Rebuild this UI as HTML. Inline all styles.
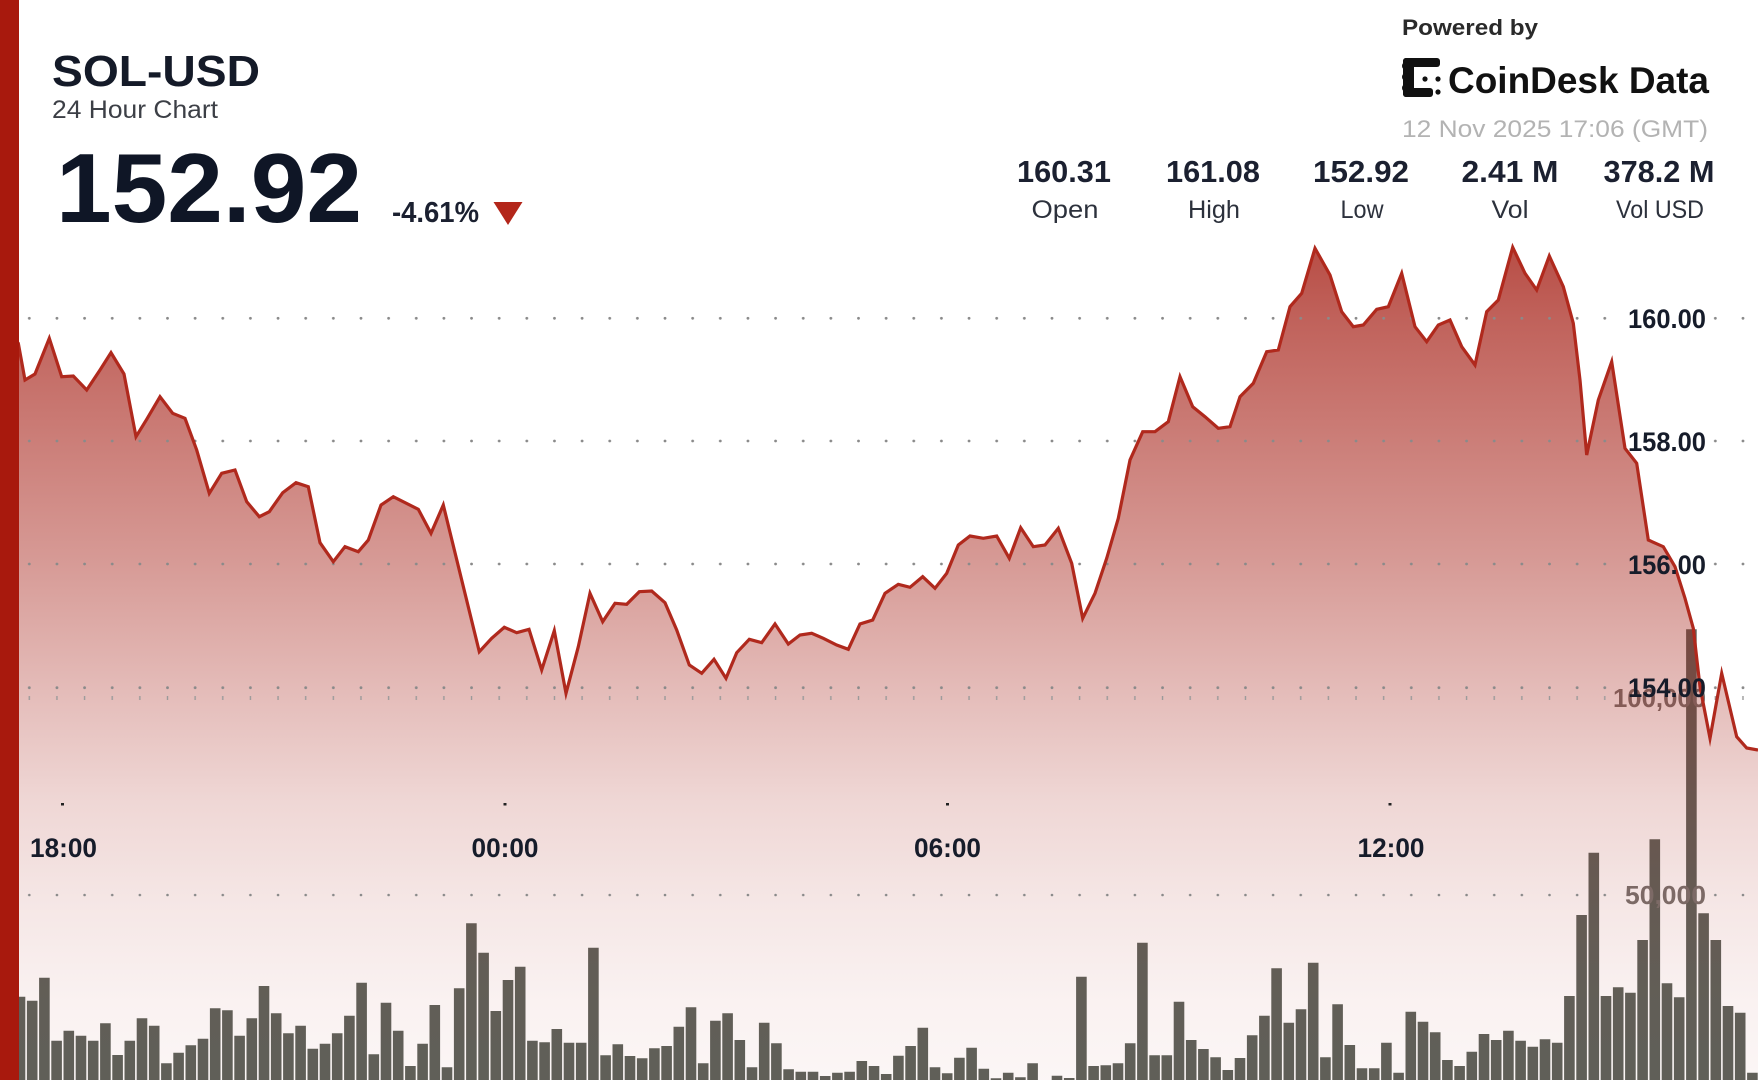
<!DOCTYPE html>
<html>
<head>
<meta charset="utf-8">
<style>
  html,body{margin:0;padding:0;background:#fff;}
  body{width:1758px;height:1080px;overflow:hidden;}
  svg{display:block;font-family:"Liberation Sans",Arial,sans-serif;}
</style>
</head>
<body>
<svg width="1758" height="1080" viewBox="0 0 1758 1080" xmlns="http://www.w3.org/2000/svg">
  <defs>
    <linearGradient id="fillg" gradientUnits="userSpaceOnUse" x1="0" y1="247" x2="0" y2="1080">
      <stop offset="0" stop-color="#a51e14" stop-opacity="0.79"/>
      <stop offset="0.085" stop-color="#a51e14" stop-opacity="0.70"/>
      <stop offset="0.376" stop-color="#a51e14" stop-opacity="0.45"/>
      <stop offset="0.532" stop-color="#a51e14" stop-opacity="0.30"/>
      <stop offset="0.664" stop-color="#a51e14" stop-opacity="0.18"/>
      <stop offset="0.784" stop-color="#a51e14" stop-opacity="0.11"/>
      <stop offset="0.904" stop-color="#a51e14" stop-opacity="0.06"/>
      <stop offset="1" stop-color="#a51e14" stop-opacity="0.04"/>
    </linearGradient>
    <pattern id="dots" patternUnits="userSpaceOnUse" x="27.8" y="0" width="27.64" height="1080">
      <circle cx="1.5" cy="318.3" r="1.4" fill="#8a8a8a"/>
      <circle cx="1.5" cy="441" r="1.4" fill="#8a8a8a"/>
      <circle cx="1.5" cy="564" r="1.4" fill="#8a8a8a"/>
      <circle cx="1.5" cy="687.7" r="1.4" fill="#8a8a8a"/>
      <rect x="0.8" y="696" width="1.4" height="4" fill="#9a9a9a"/>
      <circle cx="1.5" cy="895" r="1.3" fill="#8a8a8a"/>
    </pattern>
  </defs>

  <!-- volume bars -->
  <path fill="#5d625b" d="M2.5 1000h10.6V1080h-10.6z M14.7 996.7h10.6V1080h-10.6z M26.9 1000.7h10.6V1080h-10.6z M39.1 977.7h10.6V1080h-10.6z M51.3 1040.7h10.6V1080h-10.6z M63.5 1030.7h10.6V1080h-10.6z M75.7 1035.7h10.6V1080h-10.6z M87.9 1040.7h10.6V1080h-10.6z M100.1 1023.3h10.6V1080h-10.6z M112.3 1055h10.6V1080h-10.6z M124.5 1040.7h10.6V1080h-10.6z M136.7 1018.3h10.6V1080h-10.6z M148.9 1025.7h10.6V1080h-10.6z M161.1 1063.3h10.6V1080h-10.6z M173.3 1052.7h10.6V1080h-10.6z M185.5 1045.3h10.6V1080h-10.6z M197.7 1038.7h10.6V1080h-10.6z M209.9 1008.3h10.6V1080h-10.6z M222.1 1010.3h10.6V1080h-10.6z M234.3 1035.7h10.6V1080h-10.6z M246.5 1018.3h10.6V1080h-10.6z M258.7 986h10.6V1080h-10.6z M270.9 1013.3h10.6V1080h-10.6z M283.1 1033.3h10.6V1080h-10.6z M295.3 1025.7h10.6V1080h-10.6z M307.5 1048.7h10.6V1080h-10.6z M319.7 1043.7h10.6V1080h-10.6z M331.9 1033.3h10.6V1080h-10.6z M344.1 1015.7h10.6V1080h-10.6z M356.3 982.7h10.6V1080h-10.6z M368.5 1054.3h10.6V1080h-10.6z M380.7 1002.7h10.6V1080h-10.6z M392.9 1030.7h10.6V1080h-10.6z M405.1 1066h10.6V1080h-10.6z M417.3 1043.7h10.6V1080h-10.6z M429.5 1005h10.6V1080h-10.6z M441.7 1067.3h10.6V1080h-10.6z M453.9 988.3h10.6V1080h-10.6z M466.1 923.3h10.6V1080h-10.6z M478.3 952.7h10.6V1080h-10.6z M490.5 1011h10.6V1080h-10.6z M502.7 980h10.6V1080h-10.6z M514.9 966.7h10.6V1080h-10.6z M527.1 1040.7h10.6V1080h-10.6z M539.3 1042.3h10.6V1080h-10.6z M551.5 1029h10.6V1080h-10.6z M563.7 1042.7h10.6V1080h-10.6z M575.9 1042.7h10.6V1080h-10.6z M588.1 947.7h10.6V1080h-10.6z M600.3 1055.3h10.6V1080h-10.6z M612.5 1044.3h10.6V1080h-10.6z M624.7 1056h10.6V1080h-10.6z M636.9 1058.3h10.6V1080h-10.6z M649.1 1048.3h10.6V1080h-10.6z M661.3 1046h10.6V1080h-10.6z M673.5 1026.7h10.6V1080h-10.6z M685.7 1007.3h10.6V1080h-10.6z M697.9 1063.3h10.6V1080h-10.6z M710.1 1020.7h10.6V1080h-10.6z M722.3 1013.3h10.6V1080h-10.6z M734.5 1040h10.6V1080h-10.6z M746.7 1067.3h10.6V1080h-10.6z M758.9 1022.7h10.6V1080h-10.6z M771.1 1043.3h10.6V1080h-10.6z M783.3 1069.3h10.6V1080h-10.6z M795.5 1071.7h10.6V1080h-10.6z M807.7 1071.7h10.6V1080h-10.6z M819.9 1076h10.6V1080h-10.6z M832.1 1072.7h10.6V1080h-10.6z M844.3 1071.7h10.6V1080h-10.6z M856.5 1061h10.6V1080h-10.6z M868.7 1066h10.6V1080h-10.6z M880.9 1074h10.6V1080h-10.6z M893.1 1055.7h10.6V1080h-10.6z M905.3 1046h10.6V1080h-10.6z M917.5 1027.7h10.6V1080h-10.6z M929.7 1067.3h10.6V1080h-10.6z M941.9 1073.3h10.6V1080h-10.6z M954.1 1057.7h10.6V1080h-10.6z M966.3 1047.7h10.6V1080h-10.6z M978.5 1068.7h10.6V1080h-10.6z M990.7 1078.3h10.6V1080h-10.6z M1002.9 1072.7h10.6V1080h-10.6z M1015.1 1077.3h10.6V1080h-10.6z M1027.3 1063.3h10.6V1080h-10.6z M1051.7 1075.7h10.6V1080h-10.6z M1063.9 1078h10.6V1080h-10.6z M1076.1 976.7h10.6V1080h-10.6z M1088.3 1066h10.6V1080h-10.6z M1100.5 1065.3h10.6V1080h-10.6z M1112.7 1063.3h10.6V1080h-10.6z M1124.9 1043.3h10.6V1080h-10.6z M1137.1 942.7h10.6V1080h-10.6z M1149.3 1055.3h10.6V1080h-10.6z M1161.5 1055.3h10.6V1080h-10.6z M1173.7 1001.7h10.6V1080h-10.6z M1185.9 1040h10.6V1080h-10.6z M1198.1 1049h10.6V1080h-10.6z M1210.3 1057.3h10.6V1080h-10.6z M1222.5 1070h10.6V1080h-10.6z M1234.7 1058h10.6V1080h-10.6z M1246.9 1035.3h10.6V1080h-10.6z M1259.1 1015.7h10.6V1080h-10.6z M1271.3 968.3h10.6V1080h-10.6z M1283.5 1022.7h10.6V1080h-10.6z M1295.7 1009.3h10.6V1080h-10.6z M1307.9 962.7h10.6V1080h-10.6z M1320.1 1057.3h10.6V1080h-10.6z M1332.3 1004.3h10.6V1080h-10.6z M1344.5 1045h10.6V1080h-10.6z M1356.7 1068.3h10.6V1080h-10.6z M1368.9 1068.3h10.6V1080h-10.6z M1381.1 1042.7h10.6V1080h-10.6z M1393.3 1072.7h10.6V1080h-10.6z M1405.5 1011.7h10.6V1080h-10.6z M1417.7 1021.7h10.6V1080h-10.6z M1429.9 1032.3h10.6V1080h-10.6z M1442.1 1060h10.6V1080h-10.6z M1454.3 1066h10.6V1080h-10.6z M1466.5 1051.7h10.6V1080h-10.6z M1478.7 1034h10.6V1080h-10.6z M1490.9 1040h10.6V1080h-10.6z M1503.1 1030.7h10.6V1080h-10.6z M1515.3 1040.7h10.6V1080h-10.6z M1527.5 1046.7h10.6V1080h-10.6z M1539.7 1039.3h10.6V1080h-10.6z M1551.9 1042.7h10.6V1080h-10.6z M1564.1 996h10.6V1080h-10.6z M1576.3 915h10.6V1080h-10.6z M1588.5 852.7h10.6V1080h-10.6z M1600.7 996h10.6V1080h-10.6z M1612.9 987.3h10.6V1080h-10.6z M1625.1 992.7h10.6V1080h-10.6z M1637.3 940h10.6V1080h-10.6z M1649.5 839.3h10.6V1080h-10.6z M1661.7 983.3h10.6V1080h-10.6z M1673.9 997.3h10.6V1080h-10.6z M1686.1 629.3h10.6V1080h-10.6z M1698.3 913.3h10.6V1080h-10.6z M1710.5 940h10.6V1080h-10.6z M1722.7 1006h10.6V1080h-10.6z M1734.9 1012.7h10.6V1080h-10.6z M1747.1 1072.7h10.6V1080h-10.6z"/>

  <!-- volume axis labels -->
  <g font-weight="bold" font-size="26" fill="#777370" text-anchor="end">
    <text x="1706" y="707" textLength="93" lengthAdjust="spacingAndGlyphs">100,000</text>
    <text x="1706" y="904" textLength="81" lengthAdjust="spacingAndGlyphs">50,000</text>
  </g>

  <!-- area fill -->
  <path fill="url(#fillg)" d="M0,320 L18.3,343.3 L25,380 L35,374 L49.3,338.3 L61.7,376.7 L73.3,376 L86.7,390 L100,370 L111,352.7 L124,374 L136,436.7 L146.7,419.3 L160,396.7 L172.7,413.3 L185,418.3 L196.7,450 L209.3,493.3 L221.7,473.3 L235,470 L246.7,501.7 L259.3,516.7 L269.3,511.7 L282.7,492.7 L296,482.7 L308.3,486.7 L320,542.7 L333.3,561.7 L345,546.7 L358.3,551.7 L368.3,540 L381,505 L393.3,496.7 L418.3,509.3 L431,533.3 L443.3,505 L479.3,651.7 L491.7,638.3 L504.3,627.3 L516.7,632.7 L529,629.3 L541.7,670 L554.3,630.7 L566,693.3 L578.3,646.7 L590,593.3 L602.7,621.7 L615,603.3 L626.7,604.3 L639.3,591.7 L651.7,591 L665,602.7 L676.7,630 L689.3,665 L701.7,673.3 L714,659.3 L726,678.3 L736.7,652.7 L749.3,639.3 L761.7,642.7 L775,624 L788.3,644 L800,635 L811.7,633.3 L823.3,638.3 L836.7,645 L848.3,649.3 L860,624 L872.7,620 L885,593.3 L898.3,584.3 L910,587.3 L922.7,576.7 L935,588.3 L946.7,573.3 L958.3,545 L970,536 L983.3,538.3 L996.7,536 L1009.3,558.3 L1020.7,527.7 L1033.3,546.7 L1045,545 L1058.3,528.3 L1071.7,563.3 L1082.7,618.3 L1095,593.3 L1106.7,558.3 L1118.3,518.3 L1130,460 L1142.7,431.7 L1155,431.7 L1168.3,421.7 L1180,376.7 L1192.7,406.7 L1205,416.7 L1218.3,428.3 L1230,426.7 L1240,396.7 L1253.3,383.3 L1266.7,351.7 L1278.3,350 L1290,306.7 L1301.7,293.3 L1315,248.3 L1330,275 L1341.7,311.7 L1353.3,326.7 L1363.3,325 L1376.7,309.3 L1388.3,306.7 L1401.7,273.3 L1415,326.7 L1426.7,341.7 L1438.3,325 L1450,320 L1461.7,346.7 L1475,365 L1486.7,311.7 L1498.3,300 L1512.7,247.3 L1525,273.3 L1536.7,290 L1549.3,256 L1563.3,286.7 L1573.3,323.3 L1580,380 L1586.7,455 L1598.3,400 L1611.7,361.7 L1625,448.3 L1636.7,463.3 L1648.3,540 L1663.3,546.7 L1675,566.7 L1685,598.3 L1693.3,628.3 L1700,686.7 L1710,738.3 L1721.7,673.3 L1736.7,736.7 L1746.7,748 L1758,750 L1758,1080 L0,1080 Z"/>

  <!-- dotted gridlines -->
  <rect x="20" y="0" width="1600" height="1080" fill="url(#dots)"/>
  <rect x="1708" y="0" width="50" height="1080" fill="url(#dots)"/>

  <!-- price line -->
  <path fill="none" stroke="#b0291d" stroke-width="3.2" stroke-linejoin="miter" stroke-miterlimit="6" d="M0,320 L18.3,343.3 L25,380 L35,374 L49.3,338.3 L61.7,376.7 L73.3,376 L86.7,390 L100,370 L111,352.7 L124,374 L136,436.7 L146.7,419.3 L160,396.7 L172.7,413.3 L185,418.3 L196.7,450 L209.3,493.3 L221.7,473.3 L235,470 L246.7,501.7 L259.3,516.7 L269.3,511.7 L282.7,492.7 L296,482.7 L308.3,486.7 L320,542.7 L333.3,561.7 L345,546.7 L358.3,551.7 L368.3,540 L381,505 L393.3,496.7 L418.3,509.3 L431,533.3 L443.3,505 L479.3,651.7 L491.7,638.3 L504.3,627.3 L516.7,632.7 L529,629.3 L541.7,670 L554.3,630.7 L566,693.3 L578.3,646.7 L590,593.3 L602.7,621.7 L615,603.3 L626.7,604.3 L639.3,591.7 L651.7,591 L665,602.7 L676.7,630 L689.3,665 L701.7,673.3 L714,659.3 L726,678.3 L736.7,652.7 L749.3,639.3 L761.7,642.7 L775,624 L788.3,644 L800,635 L811.7,633.3 L823.3,638.3 L836.7,645 L848.3,649.3 L860,624 L872.7,620 L885,593.3 L898.3,584.3 L910,587.3 L922.7,576.7 L935,588.3 L946.7,573.3 L958.3,545 L970,536 L983.3,538.3 L996.7,536 L1009.3,558.3 L1020.7,527.7 L1033.3,546.7 L1045,545 L1058.3,528.3 L1071.7,563.3 L1082.7,618.3 L1095,593.3 L1106.7,558.3 L1118.3,518.3 L1130,460 L1142.7,431.7 L1155,431.7 L1168.3,421.7 L1180,376.7 L1192.7,406.7 L1205,416.7 L1218.3,428.3 L1230,426.7 L1240,396.7 L1253.3,383.3 L1266.7,351.7 L1278.3,350 L1290,306.7 L1301.7,293.3 L1315,248.3 L1330,275 L1341.7,311.7 L1353.3,326.7 L1363.3,325 L1376.7,309.3 L1388.3,306.7 L1401.7,273.3 L1415,326.7 L1426.7,341.7 L1438.3,325 L1450,320 L1461.7,346.7 L1475,365 L1486.7,311.7 L1498.3,300 L1512.7,247.3 L1525,273.3 L1536.7,290 L1549.3,256 L1563.3,286.7 L1573.3,323.3 L1580,380 L1586.7,455 L1598.3,400 L1611.7,361.7 L1625,448.3 L1636.7,463.3 L1648.3,540 L1663.3,546.7 L1675,566.7 L1685,598.3 L1693.3,628.3 L1700,686.7 L1710,738.3 L1721.7,673.3 L1736.7,736.7 L1746.7,748 L1758,750"/>

  <!-- price axis labels -->
  <g font-weight="bold" font-size="27" fill="#161c2a" text-anchor="end">
    <text x="1706" y="328" textLength="78" lengthAdjust="spacingAndGlyphs">160.00</text>
    <text x="1706" y="451" textLength="78" lengthAdjust="spacingAndGlyphs">158.00</text>
    <text x="1706" y="574" textLength="78" lengthAdjust="spacingAndGlyphs">156.00</text>
    <text x="1706" y="697" textLength="78" lengthAdjust="spacingAndGlyphs">154.00</text>
  </g>

  <!-- time ticks and labels -->
  <g fill="#222">
    <rect x="61" y="803" width="3" height="2.5"/>
    <rect x="503.5" y="803" width="3" height="2.5"/>
    <rect x="946" y="803" width="3" height="2.5"/>
    <rect x="1388.5" y="803" width="3" height="2.5"/>
  </g>
  <g font-weight="bold" font-size="27" fill="#161c2a" text-anchor="middle">
    <text x="63.5" y="857" textLength="67" lengthAdjust="spacingAndGlyphs">18:00</text>
    <text x="505" y="857" textLength="67" lengthAdjust="spacingAndGlyphs">00:00</text>
    <text x="947.5" y="857" textLength="67" lengthAdjust="spacingAndGlyphs">06:00</text>
    <text x="1391" y="857" textLength="67" lengthAdjust="spacingAndGlyphs">12:00</text>
  </g>

  <!-- left red bar -->
  <rect x="0" y="0" width="19" height="1080" fill="#a8190d"/>

  <!-- header left -->
  <text x="52" y="86" font-size="44" font-weight="bold" fill="#141a28" textLength="208" lengthAdjust="spacingAndGlyphs">SOL-USD</text>
  <text x="52" y="118" font-size="25" fill="#3c3f46" textLength="166" lengthAdjust="spacingAndGlyphs">24 Hour Chart</text>
  <text x="56" y="222" font-size="98" font-weight="bold" fill="#0f1626" textLength="306" lengthAdjust="spacingAndGlyphs">152.92</text>
  <text x="392" y="222" font-size="29" font-weight="bold" fill="#1b2030" textLength="87" lengthAdjust="spacingAndGlyphs">-4.61%</text>
  <polygon points="493.5,202 522.5,202 508,225" fill="#b3261a"/>

  <!-- header right -->
  <text x="1402" y="35" font-size="22" font-weight="bold" fill="#2a2a2a" textLength="136" lengthAdjust="spacingAndGlyphs">Powered by</text>
  <g fill="#111">
    <rect x="1403" y="58" width="37" height="9" rx="3"/>
    <rect x="1403" y="58" width="11" height="39" rx="3"/>
    <rect x="1403" y="88" width="30" height="9" rx="3"/>
    <circle cx="1406" cy="66" r="4"/>
    <circle cx="1406" cy="77" r="4"/>
    <circle cx="1406" cy="88" r="4"/>
    <circle cx="1425" cy="79" r="2.6"/>
    <circle cx="1438" cy="79" r="2.6"/>
    <circle cx="1438" cy="92" r="2.6"/>
  </g>
  <text x="1448" y="93" font-size="37" font-weight="bold" fill="#111" textLength="261" lengthAdjust="spacingAndGlyphs">CoinDesk Data</text>
  <text x="1402" y="137" font-size="24" fill="#b3b3b3" textLength="306" lengthAdjust="spacingAndGlyphs">12 Nov 2025 17:06 (GMT)</text>

  <g font-weight="bold" font-size="31" fill="#1b2030" text-anchor="middle">
    <text x="1064" y="182" textLength="94" lengthAdjust="spacingAndGlyphs">160.31</text>
    <text x="1213" y="182" textLength="94" lengthAdjust="spacingAndGlyphs">161.08</text>
    <text x="1361" y="182" textLength="96" lengthAdjust="spacingAndGlyphs">152.92</text>
    <text x="1510" y="182" textLength="97" lengthAdjust="spacingAndGlyphs">2.41 M</text>
    <text x="1659" y="182" textLength="111" lengthAdjust="spacingAndGlyphs">378.2 M</text>
  </g>
  <g font-size="25" fill="#2c313c" text-anchor="middle">
    <text x="1065" y="218" textLength="67" lengthAdjust="spacingAndGlyphs">Open</text>
    <text x="1214" y="218" textLength="52" lengthAdjust="spacingAndGlyphs">High</text>
    <text x="1362" y="218" textLength="43" lengthAdjust="spacingAndGlyphs">Low</text>
    <text x="1510" y="218" textLength="37" lengthAdjust="spacingAndGlyphs">Vol</text>
    <text x="1660" y="218" textLength="88" lengthAdjust="spacingAndGlyphs">Vol USD</text>
  </g>
</svg>
</body>
</html>
